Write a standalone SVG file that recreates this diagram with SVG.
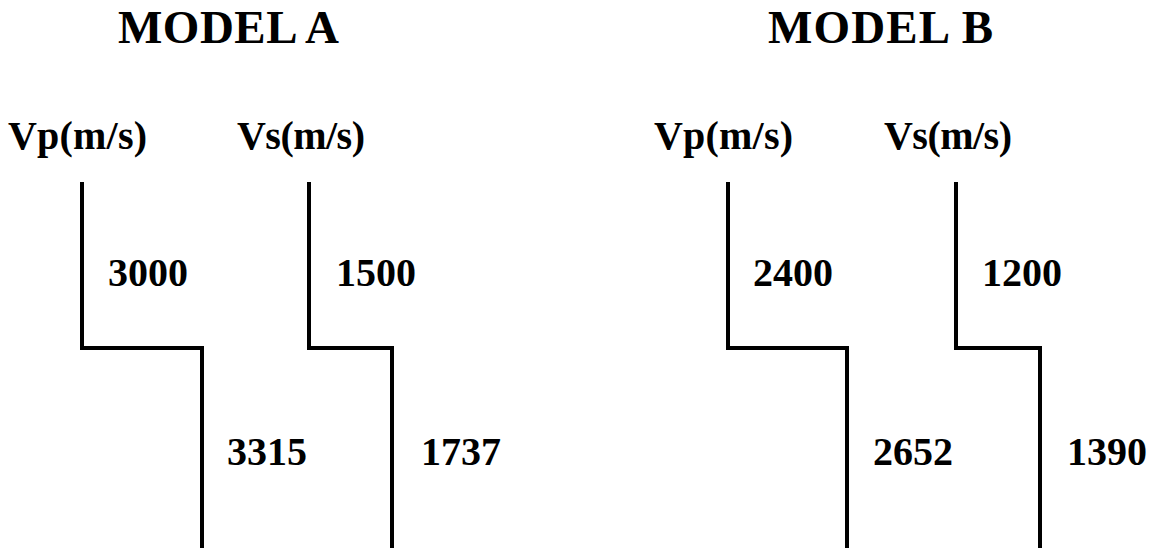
<svg xmlns="http://www.w3.org/2000/svg" width="1158" height="548" viewBox="0 0 1158 548">
  <style>
    text { font-family: "Liberation Serif", "Times New Roman", serif; font-weight: bold; fill: #000; }
    .title { font-size: 47px; }
    .head { font-size: 40px; }
    .val { font-size: 40px; }
    .profile { fill: none; stroke: #000; stroke-width: 4; stroke-linejoin: miter; }
  </style>
  <rect width="1158" height="548" fill="#fff"/>

  <!-- step profiles -->
  <g id="connectors">
    <path class="profile" d="M82,182 V348 H202 V548"/>
    <path class="profile" d="M309,182 V348 H392 V548"/>
    <path class="profile" d="M728,182 V348 H847 V548"/>
    <path class="profile" d="M956,182 V348 H1040 V548"/>
  </g>

  <g id="model-a">
    <text class="title" x="118" y="43" textLength="221" lengthAdjust="spacing">MODEL A</text>
    <text class="head" x="8" y="149" textLength="139" lengthAdjust="spacing">Vp(m/s)</text>
    <text class="head" x="237" y="149" textLength="128" lengthAdjust="spacing">Vs(m/s)</text>
    <text class="val" x="108" y="286">3000</text>
    <text class="val" x="336" y="286">1500</text>
    <text class="val" x="227" y="465">3315</text>
    <text class="val" x="421" y="465">1737</text>
  </g>

  <g id="model-b">
    <text class="title" x="768" y="43" textLength="225" lengthAdjust="spacing">MODEL B</text>
    <text class="head" x="654" y="149" textLength="139" lengthAdjust="spacing">Vp(m/s)</text>
    <text class="head" x="884" y="149" textLength="128" lengthAdjust="spacing">Vs(m/s)</text>
    <text class="val" x="753" y="286">2400</text>
    <text class="val" x="982" y="286">1200</text>
    <text class="val" x="873" y="465">2652</text>
    <text class="val" x="1067" y="465">1390</text>
  </g>
</svg>
